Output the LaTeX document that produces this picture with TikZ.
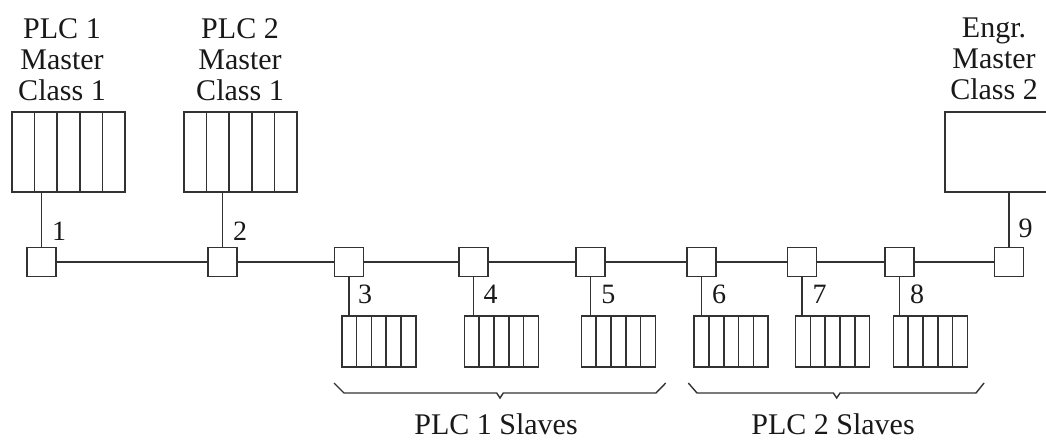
\documentclass[tikz,border=0pt]{standalone}
\usepackage{fontspec}
\setmainfont{Liberation Serif}
\usetikzlibrary{calc}
\definecolor{ln}{RGB}{50,50,50}
\definecolor{txt}{RGB}{25,25,25}
\begin{document}
\begin{tikzpicture}[x=1pt,y=-1pt,line width=1.6pt,
  lbl/.style={font=\fontsize{30}{31}\selectfont, text=txt, inner sep=0pt, align=center, anchor=north},
  slv/.style={font=\fontsize{30}{31}\selectfont, text=txt, inner sep=0pt, anchor=base},
  num/.style={font=\fontsize{28}{28}\selectfont, text=txt, inner sep=0pt},
  tap/.style={draw=ln, fill=white, minimum width=29pt, minimum height=29pt, inner sep=0pt},
  rack/.style={draw=ln, inner sep=0pt,
    path picture={\foreach \i in {1,...,4}
      \draw[ln, line width=1.6pt] ($(path picture bounding box.south west)!\i/5!(path picture bounding box.south east)$)
             -- ($(path picture bounding box.north west)!\i/5!(path picture bounding box.north east)$);}},
  master/.style={rack, minimum width=113pt, minimum height=80pt},
  slave/.style={rack, minimum width=74pt, minimum height=51pt},
  conn/.style={draw=ln},
  brace/.style={draw=ln, line width=1.4pt}]
\useasboundingbox (0,0) rectangle (1046,439);
% master labels
\node[lbl] (t1) at (62,17.5) {PLC 1\\Master\\Class 1};
\node[lbl] (t2) at (240,17.5) {PLC 2\\Master\\Class 1};
\node[lbl] (t9) at (994,17.5) {Engr.\\Master\\Class 2};
% master boxes
\node[master] (m1) at (68.4,152) {};
\node[master] (m2) at (240.5,152) {};
\node[draw=ln, inner sep=0pt, minimum width=103pt, minimum height=80pt] (m9) at (996.5,152) {};
% taps
\node[tap] (s1) at (41.5,262) {};
\node[tap] (s2) at (222.5,262) {};
\node[tap] (s3) at (349,262) {};
\node[tap] (s4) at (473.5,262) {};
\node[tap] (s5) at (590.5,262) {};
\node[tap] (s6) at (701.3,262) {};
\node[tap] (s7) at (802,262) {};
\node[tap] (s8) at (899.3,262) {};
\node[tap] (s9) at (1009,262) {};
% slave racks
\node[slave] (p3) at (378.7,341.5) {};
\node[slave] (p4) at (501.3,341.5) {};
\node[slave] (p5) at (618.3,341.5) {};
\node[slave] (p6) at (731.2,341.5) {};
\node[slave] (p7) at (832.5,341.5) {};
\node[slave] (p8) at (930.3,341.5) {};
% bus
\draw[conn] (s1) -- (s2);
\draw[conn] (s2) -- (s3);
\draw[conn] (s3) -- (s4);
\draw[conn] (s4) -- (s5);
\draw[conn] (s5) -- (s6);
\draw[conn] (s6) -- (s7);
\draw[conn] (s7) -- (s8);
\draw[conn] (s8) -- (s9);
% drops to masters
\draw[conn] (s1.north) -- (s1.north |- m1.south);
\draw[conn] (s2.north) -- (s2.north |- m2.south);
\draw[conn] (s9.north) -- (s9.north |- m9.south);
% drops to slaves
\foreach \k in {3,...,8}
  \draw[conn] (s\k.south) -- (s\k.south |- p\k.north);
% numbers
\node[num] (n1) at (59,231) {1};
\node[num] (n2) at (240,231) {2};
\node[num] (n3) at (365,294) {3};
\node[num] (n4) at (490.5,294) {4};
\node[num] (n5) at (608.3,294) {5};
\node[num] (n6) at (719,294) {6};
\node[num] (n7) at (819.7,294) {7};
\node[num] (n8) at (917,294) {8};
\node[num] (n9) at (1025.5,228) {9};
% braces
\draw[brace] (334,383) -- (344,393) -- (496.7,393) -- (500,398) -- (503.3,393) -- (656,393) -- (665.7,383);
\draw[brace] (688.3,383) -- (697,393) -- (833.4,393) -- (836.7,398) -- (840,393) -- (976,393) -- (984,383);
\node[slv] (g1) at (496,434) {PLC 1 Slaves};
\node[slv] (g2) at (833,434) {PLC 2 Slaves};
\end{tikzpicture}
\end{document}
